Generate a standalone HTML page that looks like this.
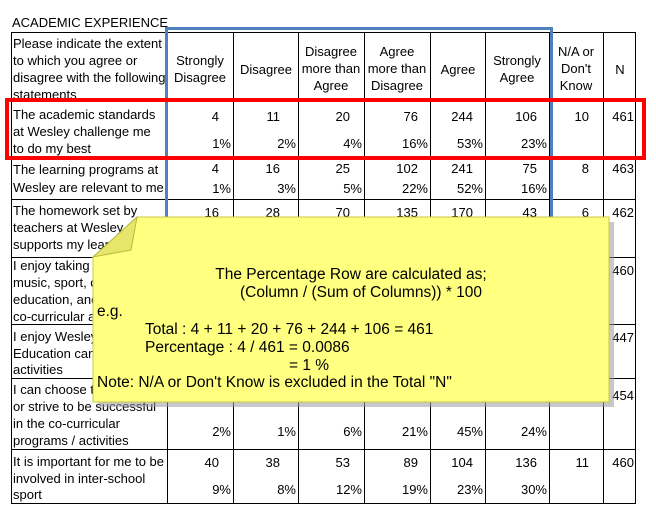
<!DOCTYPE html>
<html><head><meta charset="utf-8"><style>
html,body{margin:0;padding:0;background:#fff;}
svg{display:block;font-family:"Liberation Sans",Arial,sans-serif;}
.t{font-size:13px;fill:#000;}
.n{font-size:15.5px;fill:#000;}
</style></head><body>
<svg width="656" height="521" viewBox="0 0 656 521" xmlns="http://www.w3.org/2000/svg">
<rect width="656" height="521" fill="#fff"/>
<text class="t" x="12" y="27">ACADEMIC EXPERIENCE</text>
<g stroke="#000" stroke-width="1" fill="none" shape-rendering="crispEdges">
<rect x="11.5" y="32.5" width="624" height="471"/>
<line x1="11" y1="101.5" x2="636" y2="101.5"/>
<line x1="11" y1="157.5" x2="636" y2="157.5"/>
<line x1="11" y1="199.5" x2="636" y2="199.5"/>
<line x1="11" y1="257.5" x2="636" y2="257.5"/>
<line x1="11" y1="324.5" x2="636" y2="324.5"/>
<line x1="11" y1="378.5" x2="636" y2="378.5"/>
<line x1="11" y1="449.5" x2="636" y2="449.5"/>
<line x1="167.5" y1="32" x2="167.5" y2="504"/>
<line x1="233.5" y1="32" x2="233.5" y2="504"/>
<line x1="298.5" y1="32" x2="298.5" y2="504"/>
<line x1="364.5" y1="32" x2="364.5" y2="504"/>
<line x1="430.5" y1="32" x2="430.5" y2="504"/>
<line x1="485.5" y1="32" x2="485.5" y2="504"/>
<line x1="549.5" y1="32" x2="549.5" y2="504"/>
<line x1="603.5" y1="32" x2="603.5" y2="504"/>
</g>
<g class="t">
<text x="13" y="48">Please indicate the extent</text>
<text x="13" y="65">to which you agree or</text>
<text x="13" y="82">disagree with the following</text>
<text x="13" y="99">statements</text>
</g>
<g class="t" text-anchor="middle">
<text x="200" y="65">Strongly</text><text x="200" y="82">Disagree</text>
<text x="266" y="74">Disagree</text>
<text x="331" y="56">Disagree</text><text x="331" y="73">more than</text><text x="331" y="90">Agree</text>
<text x="397" y="56">Agree</text><text x="397" y="73">more than</text><text x="397" y="90">Disagree</text>
<text x="458" y="74">Agree</text>
<text x="517" y="65">Strongly</text><text x="517" y="82">Agree</text>
<text x="576" y="56">N/A or</text><text x="576" y="73">Don't</text><text x="576" y="90">Know</text>
<text x="620" y="74">N</text>
</g>
<g class="t">
<text x="13" y="119">The academic standards</text><text x="13" y="136">at Wesley challenge me</text><text x="13" y="153">to do my best</text>
<text x="13" y="174">The learning programs at</text><text x="13" y="192">Wesley are relevant to me</text>
<text x="13" y="215">The homework set by</text><text x="13" y="232">teachers at Wesley</text><text x="13" y="249">supports my learning</text>
<text x="13" y="270">I enjoy taking part in</text><text x="13" y="287">music, sport, outdoor</text><text x="13" y="304">education, and other</text><text x="13" y="321">co-curricular activities</text>
<text x="13" y="341">I enjoy Wesley's Outdoor</text><text x="13" y="358">Education camps and</text><text x="13" y="374">activities</text>
<text x="13" y="394">I can choose to participate</text><text x="13" y="411">or strive to be successful</text><text x="13" y="428">in the co-curricular</text><text x="13" y="445">programs / activities</text>
<text x="13" y="466">It is important for me to be</text><text x="13" y="483">involved in inter-school</text><text x="13" y="499">sport</text>
</g>
<g class="t" text-anchor="end">
<text x="219" y="121">4</text><text x="280" y="121">11</text><text x="350" y="121">20</text><text x="418" y="121">76</text><text x="473" y="121">244</text><text x="537" y="121">106</text><text x="589" y="121">10</text><text x="634" y="121">461</text>
<text x="231" y="148">1%</text><text x="296" y="148">2%</text><text x="362" y="148">4%</text><text x="428" y="148">16%</text><text x="483" y="148">53%</text><text x="547" y="148">23%</text>
<text x="219" y="173">4</text><text x="280" y="173">16</text><text x="350" y="173">25</text><text x="418" y="173">102</text><text x="473" y="173">241</text><text x="537" y="173">75</text><text x="589" y="173">8</text><text x="634" y="173">463</text>
<text x="231" y="193">1%</text><text x="296" y="193">3%</text><text x="362" y="193">5%</text><text x="428" y="193">22%</text><text x="483" y="193">52%</text><text x="547" y="193">16%</text>
<text x="219" y="217">16</text><text x="280" y="217">28</text><text x="350" y="217">70</text><text x="418" y="217">135</text><text x="473" y="217">170</text><text x="537" y="217">43</text><text x="589" y="217">6</text><text x="634" y="217">462</text>
<text x="634" y="275">460</text>
<text x="634" y="342">447</text>
<text x="634" y="400">454</text>
<text x="231" y="436">2%</text><text x="296" y="436">1%</text><text x="362" y="436">6%</text><text x="428" y="436">21%</text><text x="483" y="436">45%</text><text x="547" y="436">24%</text>
<text x="219" y="467">40</text><text x="280" y="467">38</text><text x="350" y="467">53</text><text x="418" y="467">89</text><text x="473" y="467">104</text><text x="537" y="467">136</text><text x="589" y="467">11</text><text x="634" y="467">460</text>
<text x="231" y="494">9%</text><text x="296" y="494">8%</text><text x="362" y="494">12%</text><text x="428" y="494">19%</text><text x="483" y="494">23%</text><text x="547" y="494">30%</text>
</g>
<rect x="166.5" y="28.5" width="385" height="240" fill="none" stroke="#4f81bd" stroke-width="3"/>
<rect x="7" y="100" width="637" height="58" fill="none" stroke="#ff0000" stroke-width="4"/>
<polygon points="141,222 614,222 614,407 98,407 98,262" fill="#9a9a9a" opacity="0.55"/>
<polygon points="137,217 609,217 609,402 93,402 93,257" fill="#ffff80" stroke="#c8c84a" stroke-width="1"/>
<polygon points="137,217 93,257 131,250" fill="#e6e66a" stroke="#b8b840" stroke-width="1"/>
<g class="n">
<text x="351" y="279" text-anchor="middle">The Percentage Row are calculated as;</text>
<text x="361" y="297" text-anchor="middle">(Column / (Sum of Columns)) * 100</text>
<text x="97" y="316">e.g.</text>
<text x="145" y="334">Total : 4 + 11 + 20 + 76 + 244 + 106 = 461</text>
<text x="145" y="352">Percentage : 4 / 461 = 0.0086</text>
<text x="289" y="370">= 1 %</text>
<text x="97" y="387">Note: N/A or Don't Know is excluded in the Total "N"</text>
</g>
</svg>
</body></html>
